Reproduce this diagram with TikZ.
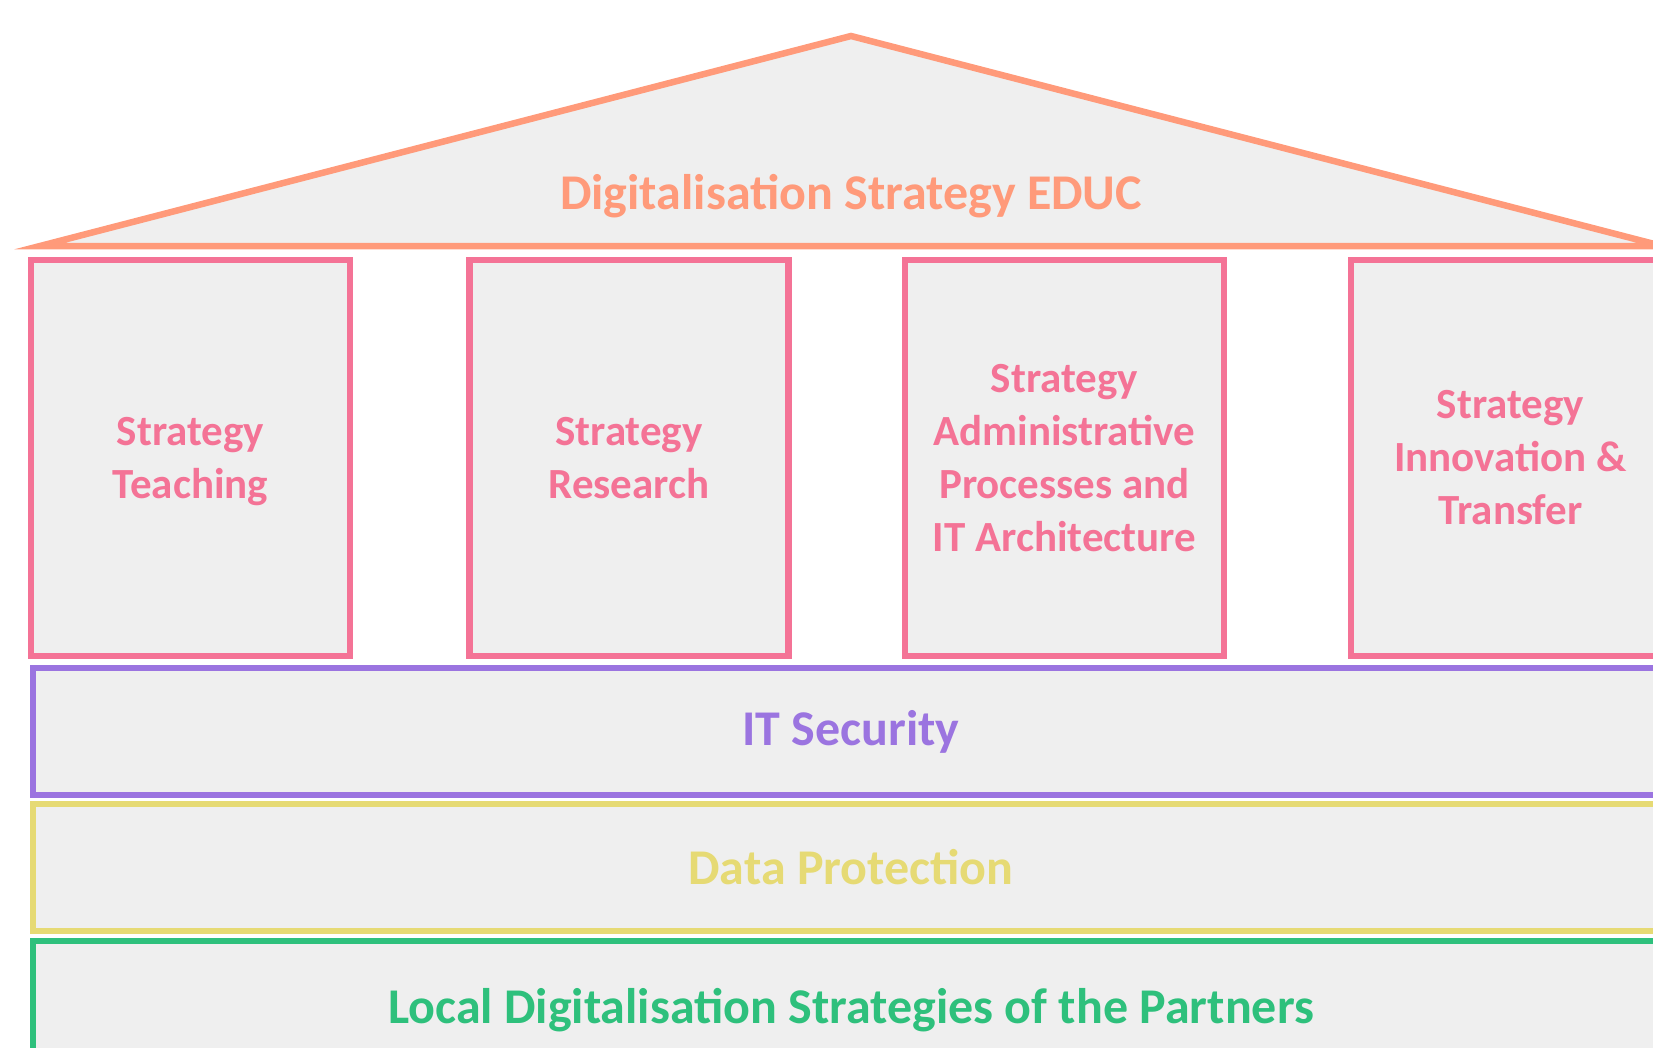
\documentclass[tikz,border=0pt]{standalone}
\usepackage{fontspec}
\setmainfont{Carlito}
\usepackage{tikz}

\definecolor{roofc}{HTML}{FF9A7A}
\definecolor{pillarc}{HTML}{F47396}
\definecolor{securityc}{HTML}{9B74E0}
\definecolor{protectionc}{HTML}{E6DA74}
\definecolor{localc}{HTML}{2EC07C}
\definecolor{boxfill}{HTML}{EFEFEF}

\begin{document}
\begin{tikzpicture}[x=1pt,y=-1pt,
    pillar/.style={draw=pillarc,fill=boxfill,line width=6.5pt,minimum width=319pt,minimum height=396pt,
      inner sep=0pt,align=center,text=pillarc,font=\fontsize{43}{53}\selectfont\bfseries},
    band/.style={draw=#1,fill=boxfill,line width=6.5pt,minimum width=1636pt,minimum height=127pt,
      inner sep=0pt,text=#1,font=\fontsize{50}{60}\selectfont\bfseries}]
    \useasboundingbox (0,0) rectangle (1653,1047);
    \clip (0,0) rectangle (1653,1047);
    \draw [roofc,fill=boxfill,line width=6.5pt] (40,246) -- (851,36) -- (1662,246) -- cycle;
    \node [text=roofc,text depth=0pt,font=\fontsize{50}{60}\selectfont\bfseries] (title) at (851,192) {Digitalisation Strategy EDUC};
    \node [pillar] (teaching) at (190.5,458) {Strategy\\\raisebox{0pt}[\height][0pt]{Teaching}};
    \node [pillar] (research) at (629,458) {Strategy\\Research};
    \node [pillar] (admin) at (1064.5,458) {Strategy\\Administrative\\Processes and\\IT Architecture};
    \node [pillar] (innovation) at (1510.5,458) {Strategy\\Innovation \&\\Transfer};
    \node [band=securityc] (security) at (851,731.5) {IT Security};
    \node [band=protectionc] (protection) at (851,867.5) {Data Protection};
    \node [band=localc,minimum height=130pt,text depth=0pt] (local) at (851,1006) {Local Digitalisation Strategies of the Partners};
\end{tikzpicture}
\end{document}
